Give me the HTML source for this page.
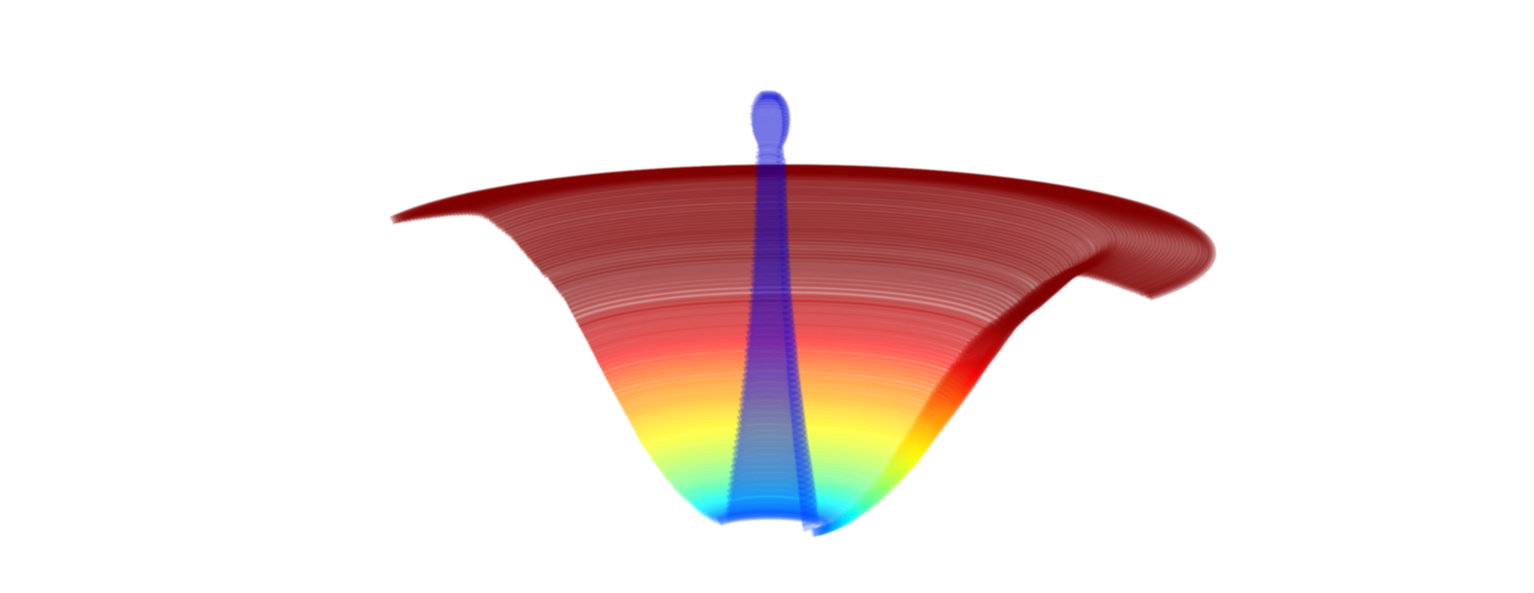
<!DOCTYPE html>
<html lang="en">
<head>
<meta charset="utf-8">
<title>3D ribbon surface</title>
<style>
html,body{margin:0;padding:0;background:#fff;width:1534px;height:593px;overflow:hidden}
svg{display:block}
</style>
</head>
<body>
<svg id="chart" xmlns="http://www.w3.org/2000/svg" width="1534" height="593" viewBox="0 0 1534 593">
  <defs>
    <filter id="soft" filterUnits="userSpaceOnUse" x="0" y="0" width="1534" height="593" color-interpolation-filters="sRGB">
      <feGaussianBlur stdDeviation="0.7"/>
    </filter>
  </defs>
  <rect x="0" y="0" width="1534" height="593" fill="#ffffff"/>
  <g id="surface" filter="url(#soft)"></g>
  <g id="tube" filter="url(#soft)"></g>
</svg>
<script>
// Outer funnel: one entry per ribbon ring (radius, height, colour level)
var ringRadius = [
4.27,4.24,4.21,4.17,4.14,4.10,4.06,4.02,3.98,3.94,3.90,3.86,3.82,3.78,3.74,3.70,3.66,3.62,3.58,
3.54,3.50,3.46,3.42,3.38,3.34,3.30,3.27,3.23,3.20,3.16,3.13,3.09,3.05,3.02,2.98,2.95,
2.92,2.89,2.87,2.84,2.81,2.79,2.76,2.73,2.71,2.68,2.65,2.63,2.60,
2.55,2.52,2.49,2.465,2.44,2.405,2.37,2.34,2.315,2.29,2.26,2.23,2.20,2.18,
2.16,2.135,2.11,2.085,2.06,2.04,2.015,1.99,1.97,
1.945,1.92,1.895,1.87,1.845,1.82,1.795,1.77,1.74,
1.715,1.69,1.665,1.64,1.615,1.59,1.57,1.545,1.52,
1.50,1.475,1.455,1.43,1.405,1.375,1.34,1.32,1.29,
1.26,1.24,1.205,1.175,1.155,1.12,1.09,1.07,1.04,
1.005,0.985,0.95,0.93,0.895,0.87,0.84,0.82,0.79,
0.755,0.725,0.69,0.66,0.625,0.58,0.55];
var ringHeight = [
3.47,3.48,3.485,3.495,3.50,3.51,3.52,3.525,3.535,3.54,3.55,3.56,3.565,3.575,3.58,3.59,3.595,3.60,3.605,
3.61,3.615,3.615,3.615,3.615,3.61,3.60,3.59,3.57,3.55,3.525,3.505,3.48,3.46,3.44,3.41,3.39,
3.36,3.335,3.31,3.285,3.26,3.235,3.21,3.185,3.16,3.14,3.11,3.085,3.06,
3.03,3.00,2.97,2.945,2.915,2.88,2.845,2.81,2.77,2.73,2.69,2.64,2.595,2.57,
2.54,2.50,2.465,2.43,2.39,2.355,2.32,2.28,2.245,
2.205,2.17,2.13,2.09,2.055,2.015,1.98,1.94,1.90,
1.865,1.83,1.79,1.755,1.72,1.685,1.65,1.615,1.58,
1.545,1.51,1.48,1.445,1.41,1.38,1.345,1.31,1.28,
1.25,1.22,1.19,1.16,1.13,1.105,1.075,1.05,1.02,
1.00,0.98,0.96,0.94,0.92,0.90,0.88,0.86,0.84,
0.82,0.805,0.79,0.775,0.76,0.75,0.74];
var ringLevel = [
1,1,1,1,1,1,1,1,1,1,1,1,1,1,1,1,1,1,1,
1,1,1,1,1,1,1,1,1,1,1,1,1,1,1,1,1,
1,1,1,1,1,1,1,1,1,1,1,1,1,
1,1,1,1,1,1,1,0.995,0.99,0.985,0.98,0.97,0.96,0.95,
0.945,0.94,0.935,0.93,0.925,0.92,0.91,0.90,0.89,
0.87,0.855,0.84,0.82,0.81,0.795,0.78,0.77,0.755,
0.745,0.735,0.725,0.715,0.71,0.695,0.68,0.67,0.66,
0.65,0.645,0.635,0.625,0.615,0.61,0.60,0.585,0.575,
0.565,0.555,0.545,0.53,0.52,0.51,0.50,0.49,0.48,
0.47,0.46,0.445,0.435,0.42,0.41,0.395,0.38,0.365,
0.345,0.33,0.31,0.285,0.26,0.23,0.20];

// Inner tube: bottom of the funnel up to the loop at the top
var tubeRadius = [
0.46,0.45,0.44,0.432,0.424,0.416,0.406,0.398,0.389,0.38,
0.37,0.36,0.35,0.34,0.332,0.324,0.316,0.308,0.30,0.292,
0.284,0.276,0.268,0.26,0.252,0.245,0.24,0.235,0.23,0.224,
0.216,0.21,0.204,0.198,0.192,0.186,0.181,0.176,0.171,0.167,
0.163,0.159,0.156,0.153,0.15,0.147,0.144,0.142,0.14,0.138,
0.136,0.134,0.132,0.13,0.128,0.127,0.125,0.124,0.12,0.115,
0.11,0.105,0.105,0.12,0.135,0.15,0.16,0.17,0.176,0.18,
0.183,0.183,0.18,0.175,0.165,0.152,0.135,0.115,0.09,0.065];
var tubeHeight = [
0.790,0.842,0.894,0.956,1.017,1.079,1.141,1.202,1.264,1.326,
1.388,1.450,1.512,1.574,1.635,1.697,1.758,1.820,1.881,1.943,
2.005,2.066,2.128,2.189,2.251,2.312,2.373,2.434,2.495,2.556,
2.618,2.679,2.740,2.801,2.863,2.924,2.985,3.046,3.107,3.167,
3.228,3.289,3.350,3.410,3.471,3.531,3.592,3.652,3.713,3.773,
3.833,3.894,3.954,4.015,4.075,4.135,4.196,4.256,4.317,4.378,
4.429,4.480,4.520,4.557,4.589,4.621,4.654,4.687,4.721,4.755,
4.789,4.824,4.860,4.896,4.928,4.960,4.989,5.013,5.032,5.047];
var tubeLevel = [
0.20,0.20,0.195,0.19,0.19,0.185,0.18,0.18,0.175,0.17,
0.17,0.165,0.16,0.16,0.155,0.15,0.15,0.145,0.14,0.14,
0.135,0.13,0.13,0.125,0.12,0.12,0.115,0.11,0.11,0.105,
0.10,0.10,0.10,0.095,0.09,0.09,0.09,0.09,0.09,0.085,
0.085,0.085,0.08,0.08,0.08,0.08,0.08,0.08,0.08,0.08,
0.08,0.08,0.08,0.08,0.08,0.08,0.08,0.08,0.08,0.08,
0.08,0.08,0.08,0.08,0.08,0.08,0.08,0.08,0.08,0.08,
0.08,0.08,0.08,0.08,0.08,0.08,0.08,0.08,0.08,0.08];

var startAngle = -157, squash = 0.195, tubeEndAngle = 42;

function xScale(r){ return r * 100; }
function yScale(h){ return 600 - h * 100; }
function funnelAxisX(h){ return 785 - 15 * (yScale(h) - 250) / 276; }
function tubeAxisX(h){ return 768.5; }
function funnelEndAngle(r){ return 31.4 + 8.6 * Math.max(0, Math.min(1, 3 - r)); }
function jet(v){
  function c(a){ return Math.round(255 * Math.max(0, Math.min(1, a))); }
  return 'rgb(' + c(Math.min(4*v-1.5, -4*v+4.5)) + ',' + c(Math.min(4*v-0.5, -4*v+3.5)) + ',' + c(Math.min(4*v+0.5, -4*v+2.5)) + ')';
}
function ringPath(r, h, axis, endAngle){
  var cx = axis(h), cy = yScale(h), R = xScale(r), d = '';
  for (var i = 0; i <= 72; i++){
    var a = (startAngle + (endAngle - startAngle) * i / 72) * Math.PI / 180;
    d += (i ? 'L' : 'M') + (cx + R * Math.cos(a)).toFixed(1) + ' ' + (cy + squash * R * Math.sin(a)).toFixed(1);
  }
  return d;
}
var NS = 'http://www.w3.org/2000/svg';
var surface = document.getElementById('surface');
ringRadius.forEach(function(r, i){
  var el = document.createElementNS(NS, 'path');
  
  
  el.setAttribute('d', ringPath(r, ringHeight[i], funnelAxisX, funnelEndAngle(r)));
  el.setAttribute('fill', 'none');
  el.setAttribute('stroke', jet(ringLevel[i]));
  el.setAttribute('stroke-width', 8.5);
  el.setAttribute('stroke-opacity', 0.42);
  surface.appendChild(el);
});
var tube = document.getElementById('tube');
tubeRadius.forEach(function(r, i){
  var prev = i > 0 ? tubeHeight[i-1] : tubeHeight[0] - 0.05;
  var gap = Math.abs(tubeHeight[i] - prev) * 100;
  var el = document.createElementNS(NS, 'path');
  
  
  el.setAttribute('d', ringPath(r, tubeHeight[i], tubeAxisX, tubeEndAngle));
  el.setAttribute('fill', 'none');
  el.setAttribute('stroke', jet(tubeLevel[i]));
  el.setAttribute('stroke-width', Math.max(7, gap * 1.9));
  el.setAttribute('stroke-opacity', 0.32);
  tube.appendChild(el);
});
</script>
</body>
</html>
